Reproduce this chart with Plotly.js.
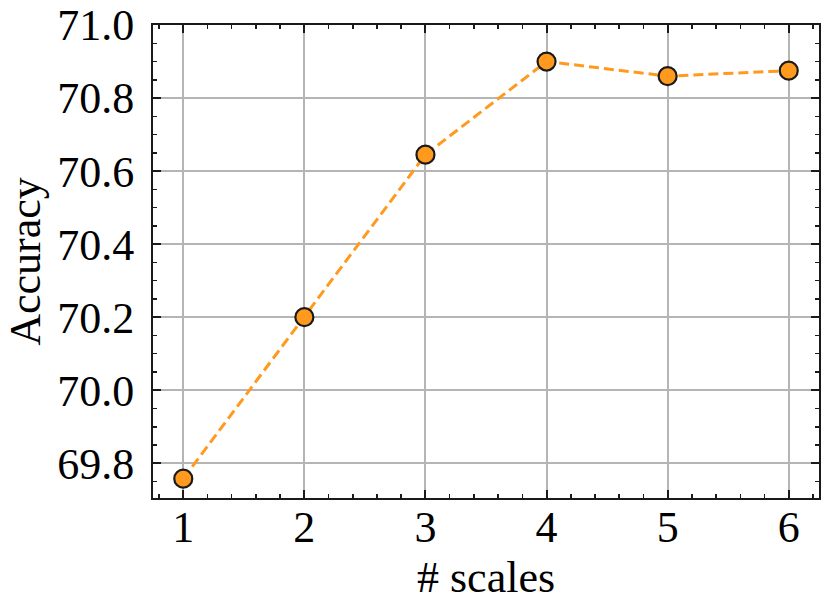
<!DOCTYPE html>
<html>
<head>
<meta charset="utf-8">
<script src="https://cdn.plot.ly/plotly-3.0.1.min.js"></script>
<style>html,body{margin:0;padding:0;background:#fff;}#chart{width:830px;height:613px;}</style>
</head>
<body>
<div id="chart"></div>
<script>
const scales = [1, 2, 3, 4, 5, 6];
const accuracy = [69.758, 70.2, 70.645, 70.9, 70.86, 70.875];
const xTickVals = [1, 2, 3, 4, 5, 6];
const yTickVals = [69.8, 70.0, 70.2, 70.4, 70.6, 70.8, 71.0];
const yTickText = ["69.8", "70.0", "70.2", "70.4", "70.6", "70.8", "71.0"];
const xTitle = "# scales";
const yTitle = "Accuracy";

const orange = "#ff9a1f";
const font = "Liberation Serif, Times New Roman, serif";

const trace = {
  x: scales, y: accuracy, type: "scatter", mode: "lines+markers",
  line: {color: orange, width: 3, dash: "10px,5px"},
  marker: {size: 18, color: orange, line: {color: "#1a1a1a", width: 2.2}},
  hoverinfo: "skip"
};

const axisCommon = {
  showline: true, linecolor: "#1a1a1a", linewidth: 2, mirror: "allticks",
  ticks: "inside", ticklen: 8, tickwidth: 2, tickcolor: "#1a1a1a",
  showgrid: true, gridcolor: "#b5b5b5", gridwidth: 2,
  zeroline: false,
  tickfont: {family: font, size: 44, color: "#000"}
};

const layout = {
  width: 830, height: 613,
  margin: {l: 153, r: 11, t: 25, b: 115},
  paper_bgcolor: "#fff", plot_bgcolor: "#fff",
  showlegend: false,
  font: {family: font, color: "#000"},
  xaxis: Object.assign({}, axisCommon, {
    range: [0.75, 6.25], tickmode: "array", tickvals: xTickVals,
    ticklabelstandoff: -11,
    minor: {ticks: "inside", dtick: 0.2, tick0: 0, ticklen: 4, tickwidth: 1.5, tickcolor: "#1a1a1a", showgrid: false}
  }),
  yaxis: Object.assign({}, axisCommon, {
    range: [69.705, 71.0], tickmode: "array", tickvals: yTickVals, ticktext: yTickText,
    ticklabelstandoff: 8,
    minor: {ticks: "inside", dtick: 0.05, tick0: 0, ticklen: 4, tickwidth: 1.5, tickcolor: "#1a1a1a", showgrid: false},
    title: {text: yTitle, font: {family: font, size: 44, color: "#000"}, standoff: 3}
  }),
  annotations: [{
    text: xTitle, xref: "paper", yref: "paper", x: 0.5, y: -0.168,
    xanchor: "center", yanchor: "middle", showarrow: false,
    font: {family: font, size: 44, color: "#000"}
  }]
};

Plotly.newPlot("chart", [trace], layout, {displayModeBar: false, staticPlot: true});
</script>
</body>
</html>
